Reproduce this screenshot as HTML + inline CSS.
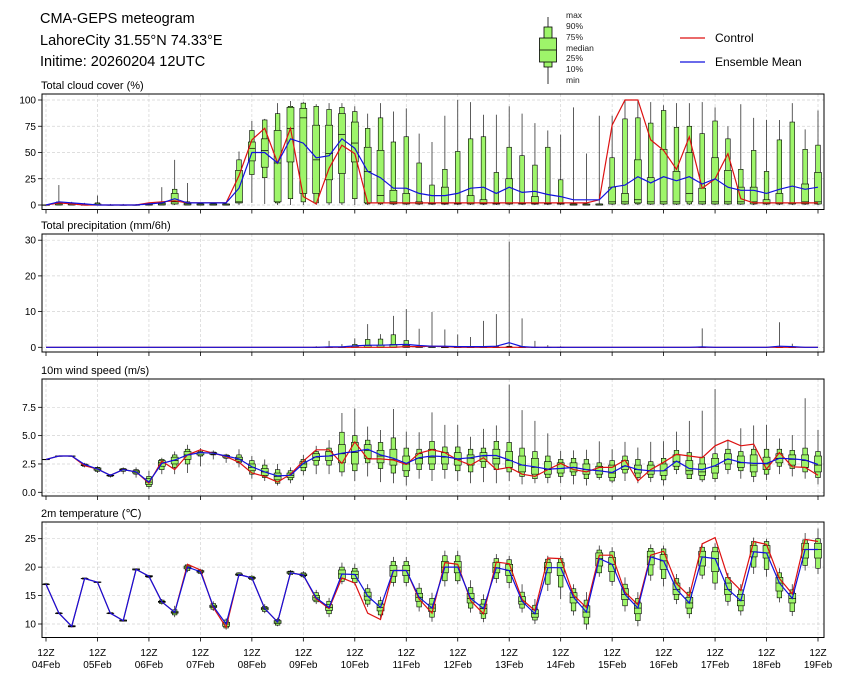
<!DOCTYPE html>
<html><head><meta charset="utf-8"><style>
body{margin:0;background:#fff;}
svg{display:block;font-family:"Liberation Sans","DejaVu Sans",sans-serif;}
</style></head><body>
<svg id="chart" width="845" height="681" viewBox="0 0 845 681" xmlns="http://www.w3.org/2000/svg">
<rect x="0" y="0" width="845" height="681" fill="#fff"/>
<text x="40" y="23" font-size="14.5">CMA-GEPS meteogram</text>
<text x="40" y="45" font-size="14.5">LahoreCity 31.55°N 74.33°E</text>
<text x="40" y="66" font-size="14.5">Initime: 20260204 12UTC</text>
<g>
<line x1="548" y1="17" x2="548" y2="84" stroke="#333" stroke-width="1"/>
<rect x="544" y="27" width="8" height="40" fill="#9ef56a" stroke="#000" stroke-width="0.8"/>
<rect x="539.5" y="38" width="17" height="24" fill="#9ef56a" stroke="#000" stroke-width="0.8"/>
<line x1="539.5" y1="50" x2="556.5" y2="50" stroke="#000" stroke-width="0.8"/>
<g font-size="8.5" fill="#222">
<text x="566" y="18">max</text><text x="566" y="29">90%</text><text x="566" y="40">75%</text><text x="566" y="51">median</text><text x="566" y="61">25%</text><text x="566" y="72">10%</text><text x="566" y="83">min</text>
</g></g>
<g>
<line x1="680" y1="38" x2="705" y2="38" stroke="#dd1111" stroke-width="1.3"/>
<text x="715" y="42" font-size="12">Control</text>
<line x1="680" y1="62" x2="705" y2="62" stroke="#1111dd" stroke-width="1.3"/>
<text x="715" y="66" font-size="12">Ensemble Mean</text>
</g>
</svg>
<script>
const dayLabels = ["04Feb","05Feb","06Feb","07Feb","08Feb","09Feb","10Feb","11Feb","12Feb","13Feb","14Feb","15Feb","16Feb","17Feb","18Feb","19Feb"];
// Total cloud cover (%)
const ccCtrl = [0,2,1,0,0,0,0,0,2,3,4,2,2,2,2,28,62,73,40,73,8,1,35,57,49,2,2,2,2,2,2,2,2,2,2,2,2,2,2,2,2,2,2,5,76,100,100,62,52,34,65,16,25,49,6,2,2,2,2,2,2];
const ccMean = [0,3,2,1,0,0,0,0,1,2,6,2,2,2,2,16,50,50,40,63,59,45,47,63,54,32,26,16,16,11,9,9,11,16,17,11,17,12,13,10,8,5,5,5,17,19,27,21,27,23,27,20,25,17,14,14,11,15,18,15,17];
const ccMax = [0,19,3,2,9,1,1,1,2,17,43,21,1,1,1,51,80,82,97,99,98,96,97,97,94,87,97,89,92,68,60,85,100,98,86,86,94,87,78,71,67,93,49,85,85,100,100,98,95,97,97,98,93,75,96,83,81,81,97,72,90];
const ccP90 = [0,3,2,1,2,0,0,0,1,3,15,3,1,1,1,43,71,81,87,94,97,94,91,93,89,73,83,60,65,40,19,34,51,63,65,31,55,47,38,55,24,1,1,1,45,82,83,78,90,74,75,68,80,63,34,52,32,62,79,53,57];
const ccP75 = [0,2,1,0,1,0,0,0,1,2,11,2,1,1,1,33,60,63,71,93,92,76,76,87,79,55,52,14,11,3,2,17,2,9,5,2,25,2,8,2,2,1,1,1,17,11,43,26,53,32,50,16,45,33,17,17,5,11,2,20,31];
const ccMed = [0,1,1,0,0,0,0,0,0,1,3,1,0,0,0,3,54,52,40,73,83,43,49,67,59,32,9,3,2,2,1,1,1,2,1,1,2,1,1,1,1,0,0,0,3,3,5,3,3,3,11,3,3,3,3,3,2,2,2,3,3];
const ccP25 = [0,0,0,0,0,0,0,0,0,0,1,0,0,0,0,2,42,36,3,41,11,11,24,30,41,2,2,1,1,1,1,1,1,1,1,1,1,1,1,1,1,0,0,0,1,1,2,1,1,1,3,1,1,1,1,1,1,1,1,1,1];
const ccP10 = [0,0,0,0,0,0,0,0,0,0,1,0,0,0,0,2,29,26,2,6,3,2,2,2,6,1,1,1,1,1,1,1,1,1,1,1,1,1,1,1,1,0,0,0,1,1,1,1,1,1,1,1,1,1,1,1,1,1,1,1,1];
const ccMin = [0,0,0,0,0,0,0,0,0,0,0,0,0,0,0,0,2,1,0,0,0,0,0,0,0,0,0,0,0,0,0,0,0,0,0,0,0,0,0,0,0,0,0,0,0,0,0,0,0,0,0,0,0,0,0,0,0,0,0,0,0];
// Total precipitation (mm/6h)
const prCtrl = [0,0,0,0,0,0,0,0,0,0,0,0,0,0,0,0,0,0,0,0,0,0,0,0,0,0,0,0,0.2,0.2,0.3,0.2,0,0,0,0,0,0,0,0,0,0,0,0,0,0,0,0,0,0,0,0,0,0,0,0,0,0,0,0,0];
const prMean = [0,0,0,0,0,0,0,0,0,0,0,0,0,0,0,0,0,0,0,0,0,0,0.1,0.1,0.4,0.6,0.6,0.7,0.8,0.5,0.3,0.3,0.2,0.2,0.2,0.3,1.3,0.2,0,0,0,0,0,0,0,0,0,0,0,0,0,0.1,0,0,0,0,0,0.3,0.2,0,0];
const prMax = [0,0,0,0,0,0,0,0,0,0,0,0,0,0,0,0,0,0,0,0,0,0.3,1.8,0.9,2.5,6.5,3.7,8.8,10.7,5.2,9.9,5.0,3.6,2.9,7.4,9.3,29.6,8.1,1.8,0.6,0.3,0,0,0,0,0,0,0,0,0,0,5.3,0,0,0,0,0,7.0,1.0,0,0];
const prP90 = [0,0,0,0,0,0,0,0,0,0,0,0,0,0,0,0,0,0,0,0,0,0,0.1,0.1,0.8,2.2,2.3,3.5,1.9,0.3,0.2,0.2,0.2,0.1,0.2,0.2,0.3,0.2,0,0,0,0,0,0,0,0,0,0,0,0,0,0,0,0,0,0,0,0,0,0,0];
const prP75 = [0,0,0,0,0,0,0,0,0,0,0,0,0,0,0,0,0,0,0,0,0,0,0,0,0.3,0.5,0.6,0.8,0.5,0.1,0.1,0,0,0,0,0,0.1,0,0,0,0,0,0,0,0,0,0,0,0,0,0,0,0,0,0,0,0,0,0,0,0];
// 10m wind speed (m/s)
const wsCtrl = [2.9,3.2,3.2,2.35,2.05,1.5,2.0,1.8,0.8,2.75,2.0,3.3,3.75,3.45,3.15,2.65,1.7,1.4,0.9,1.6,2.75,3.75,3.75,2.55,4.45,2.95,2.95,2.85,2.45,3.45,3.75,3.5,2.85,2.4,3.05,2.0,2.2,1.6,1.4,2.0,2.55,2.0,1.8,2.2,2.2,2.85,1.0,2.0,2.65,3.35,3.2,3.05,4.1,4.6,4.1,4.25,2.05,3.5,2.25,2.2,1.5];
const wsMean = [2.9,3.2,3.2,2.45,2.05,1.5,2.0,1.8,0.9,2.55,2.85,3.3,3.5,3.45,3.2,2.95,2.25,1.8,1.45,1.5,2.55,3.15,3.2,3.45,3.6,3.8,3.3,3.0,2.55,3.05,3.2,3.15,2.95,3.05,3.25,3.25,2.85,2.4,2.25,2.05,2.1,2.2,2.0,1.9,1.75,2.35,2.0,1.9,1.9,2.75,2.1,2.0,2.35,2.95,2.65,2.55,2.55,3.0,2.95,2.85,2.45];
const wsMax = [2.9,3.2,3.2,2.6,2.3,1.6,2.2,2.2,1.9,3.05,3.6,4.2,3.9,3.7,3.4,3.8,3.2,2.9,2.5,2.2,3.3,4.1,4.6,7.0,7.4,5.8,5.5,7.35,5.35,5.3,7.05,5.95,5.95,4.9,5.6,5.9,9.5,7.25,6.3,5.2,3.65,3.7,3.75,4.5,3.8,4.45,3.95,4.45,4.5,5.35,6.3,7.2,9.1,4.6,5.65,5.9,5.95,4.75,5.05,8.3,5.5];
const wsP90 = [2.9,3.2,3.2,2.5,2.2,1.55,2.1,2.0,1.4,2.9,3.3,3.8,3.6,3.55,3.3,3.3,2.8,2.4,2.0,1.9,2.9,3.6,3.9,5.3,5.0,4.6,4.4,4.8,3.9,3.8,4.5,4.0,4.0,3.8,3.9,4.5,4.4,3.9,3.6,3.2,2.9,3.0,2.9,2.6,2.8,3.2,2.9,2.7,3.0,3.7,3.5,3.1,3.4,3.8,3.6,3.8,3.8,3.8,3.7,3.9,3.6];
const wsP75 = [2.9,3.2,3.2,2.45,2.15,1.5,2.05,1.9,1.2,2.8,3.1,3.6,3.5,3.5,3.25,3.1,2.5,2.1,1.7,1.7,2.7,3.4,3.6,4.2,4.4,4.2,3.7,3.8,3.2,3.4,3.8,3.5,3.5,3.3,3.5,3.8,3.6,3.2,3.0,2.7,2.6,2.6,2.5,2.3,2.4,2.8,2.4,2.4,2.5,3.3,2.8,2.5,3.0,3.4,3.2,3.3,3.1,3.4,3.3,3.3,3.2];
const wsMed = [2.9,3.2,3.2,2.4,2.05,1.5,2.0,1.8,0.9,2.6,2.8,3.3,3.5,3.45,3.2,2.9,2.2,1.8,1.4,1.5,2.5,3.1,3.2,3.4,3.5,3.7,3.2,2.9,2.5,3.0,3.1,3.1,2.9,3.0,3.2,3.0,2.8,2.4,2.2,2.0,2.1,2.2,2.0,1.9,1.7,2.3,2.0,1.9,1.9,2.7,1.9,1.8,2.3,2.9,2.6,2.4,2.5,3.0,2.9,2.8,2.4];
const wsP25 = [2.9,3.2,3.2,2.35,1.95,1.45,1.95,1.7,0.7,2.3,2.5,2.9,3.3,3.35,3.1,2.75,1.9,1.5,1.1,1.3,2.2,2.8,2.8,2.6,2.5,3.0,2.6,2.4,1.9,2.5,2.5,2.5,2.4,2.4,2.7,2.5,2.2,1.8,1.6,1.6,1.7,1.8,1.6,1.6,1.3,2.0,1.7,1.6,1.5,2.3,1.6,1.5,1.7,2.5,2.2,1.8,2.0,2.6,2.4,2.2,1.8];
const wsP10 = [2.9,3.2,3.2,2.3,1.85,1.4,1.85,1.6,0.5,2.0,2.2,2.5,3.2,3.3,3.0,2.6,1.6,1.3,0.8,1.1,1.9,2.4,2.4,1.8,1.9,2.6,2.1,1.7,1.4,2.0,2.0,2.0,1.9,1.8,2.2,2.0,1.8,1.4,1.2,1.3,1.4,1.5,1.2,1.3,1.0,1.7,1.3,1.3,1.1,2.0,1.2,1.1,1.2,2.0,1.9,1.4,1.6,2.3,2.1,1.8,1.3];
const wsMin = [2.9,3.2,3.2,2.2,1.7,1.3,1.6,1.3,0.3,1.6,1.6,1.7,2.3,2.9,2.6,2.2,1.2,1.0,0.6,0.8,1.5,1.6,1.6,1.4,1.0,1.4,0.9,0.8,0.6,1.2,1.0,1.2,1.0,0.8,0.9,0.8,1.0,0.7,0.8,0.8,0.8,0.7,0.6,1.1,0.8,1.0,0.8,0.9,0.6,1.6,1.2,0.9,0.9,1.6,1.2,0.9,1.1,1.6,1.4,1.2,0.7];
// 2m temperature (°C)
const tCtrl = [17.0,11.9,9.6,18.0,17.35,11.9,10.6,19.6,18.4,13.9,12.05,20.5,19.5,12.9,9.4,18.7,18.1,12.7,10.35,19.0,18.6,14.4,12.7,18.1,17.2,11.9,10.8,19.4,19.4,14.4,11.9,20.8,20.5,14.1,11.8,20.9,20.6,14.3,12.35,21.6,21.5,15.1,12.9,22.1,22.1,15.6,13.4,22.1,22.8,17.1,14.9,24.1,25.2,18.2,15.9,24.5,24.0,18.0,15.3,24.9,24.5];
const tMean = [17.0,11.9,9.6,18.0,17.35,11.9,10.6,19.6,18.4,13.9,12.05,20.0,19.2,13.1,10.0,18.7,18.1,12.7,10.35,19.0,18.6,14.6,12.9,18.8,18.7,14.9,12.9,19.4,19.4,14.7,12.8,20.0,20.0,14.5,12.7,19.9,19.4,14.0,11.8,19.9,19.9,14.7,12.1,21.5,20.5,15.2,12.8,21.8,21.1,16.1,13.7,21.8,21.5,16.1,14.1,22.7,22.5,17.2,14.5,23.1,23.1];
// rows: [min, p10, p25, median, p75, p90, max]
const tStats = [
[16.9,16.9,17.0,17.0,17.0,17.1,17.1],[11.8,11.8,11.9,11.9,11.9,12.0,12.0],[9.4,9.5,9.5,9.6,9.7,9.7,9.8],[17.9,17.9,18.0,18.0,18.0,18.1,18.1],
[17.2,17.3,17.3,17.35,17.4,17.4,17.5],[11.8,11.8,11.9,11.9,11.9,12.0,12.0],[10.4,10.5,10.5,10.6,10.7,10.7,10.8],[19.4,19.5,19.5,19.6,19.7,19.7,19.8],
[18.1,18.2,18.3,18.4,18.5,18.5,18.6],[13.4,13.6,13.8,13.9,14.0,14.2,14.4],[11.2,11.6,11.9,12.05,12.2,12.5,13.2],[19.1,19.4,19.7,20.0,20.2,20.4,20.6],
[18.8,18.9,19.1,19.2,19.4,19.5,19.7],[12.3,12.6,12.9,13.1,13.3,13.6,14.0],[9.0,9.3,9.6,10.0,10.3,10.7,11.0],[18.4,18.5,18.6,18.7,18.8,19.0,19.1],
[17.6,17.8,18.0,18.1,18.2,18.4,18.6],[11.9,12.2,12.5,12.7,12.9,13.1,13.5],[9.6,9.8,10.1,10.35,10.6,10.8,11.1],[18.6,18.7,18.9,19.0,19.2,19.3,19.5],
[18.1,18.3,18.5,18.6,18.8,19.0,19.3],[13.5,13.9,14.2,14.6,15.0,15.5,16.0],[11.2,11.8,12.4,12.9,13.4,14.0,14.6],[17.0,17.5,18.0,18.8,19.5,20.0,20.8],
[16.8,17.3,18.0,18.7,19.3,19.8,20.6],[13.0,13.5,14.2,14.9,15.6,16.2,17.0],[11.0,11.6,12.3,12.9,13.5,14.1,14.8],[16.6,17.3,18.4,19.4,20.3,21.0,21.8],
[16.6,17.3,18.5,19.4,20.3,21.0,21.8],[12.2,13.0,14.0,14.7,15.4,16.3,17.2],[10.4,11.2,12.2,12.8,13.5,14.5,15.5],[16.6,17.6,19.0,20.0,21.0,22.0,22.9],
[17.0,17.6,19.0,20.0,21.0,22.0,22.9],[12.0,12.8,13.7,14.5,15.4,16.4,17.7],[10.3,11.0,11.8,12.7,13.5,14.3,15.2],[17.2,18.0,19.0,19.9,20.8,21.5,22.3],
[16.3,17.3,18.5,19.4,20.5,21.3,22.0],[12.0,12.8,13.5,14.0,14.8,15.6,17.0],[10.0,10.7,11.2,11.8,12.5,13.3,14.4],[15.8,17.0,19.0,19.9,20.8,21.4,22.0],
[14.4,16.5,18.5,19.9,20.8,21.5,22.0],[11.5,12.3,13.7,14.7,15.5,16.2,17.0],[9.0,10.0,11.2,12.1,13.2,14.2,15.6],[18.3,19.0,20.2,21.5,22.5,23.0,23.8],
[16.7,17.5,19.2,20.5,21.7,22.7,23.5],[12.2,13.2,14.3,15.2,16.2,17.0,18.2],[9.6,10.6,11.8,12.8,13.7,14.5,15.6],[17.6,18.6,20.4,21.8,22.8,23.3,24.0],
[16.6,18.0,19.6,21.1,22.2,23.2,23.8],[13.5,14.3,15.2,16.1,17.2,18.0,18.8],[11.0,11.8,12.8,13.7,14.7,15.6,16.5],[17.9,18.6,20.2,21.8,22.8,23.5,24.2],
[16.0,17.2,19.2,21.5,22.7,23.5,24.2],[13.2,14.0,15.2,16.1,17.2,18.2,19.0],[11.5,12.3,13.2,14.1,15.2,16.0,17.0],[18.8,20.0,21.8,22.7,23.8,24.5,25.2],
[18.3,19.6,21.6,22.5,23.8,24.5,25.0],[13.8,14.6,15.8,17.2,18.2,19.0,19.8],[11.4,12.2,13.7,14.5,15.4,16.0,17.0],[19.4,20.3,21.6,23.1,24.2,24.8,26.0],
[18.8,19.8,21.6,23.1,24.2,25.0,26.8]];
const ccTicks = [0,25,50,75,100];
const prTicks = [0,10,20,30];
const wsTicks = [0.0,2.5,5.0,7.5];
const tTicks = [10,15,20,25];

const NS = "http://www.w3.org/2000/svg";
const svg = document.getElementById("chart");
function mk(tag, attrs, parent){ const e=document.createElementNS(NS,tag); for(const k in attrs) e.setAttribute(k,attrs[k]); (parent||svg).appendChild(e); return e; }
const X0=46, X1=818, FL=42, FR=824;
const nSteps = ccCtrl.length-1;
function xOf(i){ return X0 + i*(X1-X0)/nSteps; }
function xDay(d){ return X0 + d*(X1-X0)/(dayLabels.length-1); }
function scale(v0,y0,v1,y1){ return v=> y0 + (v-v0)*(y1-y0)/(v1-v0); }

function panel(name, title, top, bot, ys, ticks, fmt, stats, ctrl, mean){
  const g = mk("g",{});
  
  
  const t = mk("text",{x:41,y:top-5,"font-size":11},g); t.textContent=title;
  
  
  for(let d=0; d<dayLabels.length; d++){
    const gl = mk("line",{x1:xDay(d),x2:xDay(d),y1:top,y2:bot,stroke:"#d3d3d3","stroke-width":0.7,"stroke-dasharray":"3,2"},g);
    
    
    mk("line",{x1:xDay(d),x2:xDay(d),y1:bot,y2:bot+4,stroke:"#000","stroke-width":0.8},g);
  }
  ticks.forEach(v=>{
    const y=ys(v);
    const gl = mk("line",{x1:FL,x2:FR,y1:y,y2:y,stroke:"#d3d3d3","stroke-width":0.7,"stroke-dasharray":"3,2"},g);
    
    
    mk("line",{x1:FL-4,x2:FL,y1:y,y2:y,stroke:"#000","stroke-width":0.8},g);
    const lb = mk("text",{x:FL-6,y:y+3.5,"font-size":10,"text-anchor":"end"},g); lb.textContent=fmt(v);
    
    
  });
  for(let i=0;i<=nSteps;i++){
    const s = stats(i); if(!s) continue;
    const x=xOf(i);
    const bg = mk("g",{},g);
    
    
    mk("line",{x1:x,x2:x,y1:ys(s[0]),y2:ys(s[6]),stroke:"#333","stroke-width":0.8},bg);
    mk("rect",{x:x-2.3,y:ys(s[5]),width:4.6,height:Math.max(0.3,ys(s[1])-ys(s[5])),fill:"#9ef56a",stroke:"#000","stroke-width":0.6},bg);
    mk("rect",{x:x-3.5,y:ys(s[4]),width:7,height:Math.max(0.3,ys(s[2])-ys(s[4])),fill:"#9ef56a",stroke:"#000","stroke-width":0.6},bg);
    mk("line",{x1:x-3.5,x2:x+3.5,y1:ys(s[3]),y2:ys(s[3]),stroke:"#000","stroke-width":0.7},bg);
  }
  const pts = a=>a.map((v,i)=>xOf(i).toFixed(1)+","+ys(v).toFixed(1)).join(" ");
  const cl = mk("polyline",{points:pts(ctrl),fill:"none",stroke:"#dd1111","stroke-width":1.2},g);
  
  
  const ml = mk("polyline",{points:pts(mean),fill:"none",stroke:"#1111dd","stroke-width":1.2},g);
  
  
  const fr = mk("rect",{x:FL,y:top,width:FR-FL,height:bot-top,fill:"none",stroke:"#000","stroke-width":1},g);
  
  
}
panel("cloud-cover","Total cloud cover (%)",94,209.5,scale(0,205,100,100),ccTicks,v=>String(v),
  i=>[ccMin[i],ccP10[i],ccP25[i],ccMed[i],ccP75[i],ccP90[i],ccMax[i]],ccCtrl,ccMean);
panel("precipitation","Total precipitation (mm/6h)",234,352,scale(0,347.3,30,240.2),prTicks,v=>String(v),
  i=> prMax[i]>0 ? [0,0,0,0,prP75[i],prP90[i],prMax[i]] : null, prCtrl, prMean);
panel("wind-speed","10m wind speed (m/s)",379,496,scale(0,492.3,7.5,407.3),wsTicks,v=>v.toFixed(1),
  i=>[wsMin[i],wsP10[i],wsP25[i],wsMed[i],wsP75[i],wsP90[i],wsMax[i]],wsCtrl,wsMean);
panel("temperature","2m temperature (℃)",522,637.5,scale(10,624,25,538.7),tTicks,v=>String(v),
  i=>tStats[i],tCtrl,tMean);
dayLabels.forEach((d,k)=>{
  const t1 = mk("text",{x:xDay(k),y:656,"font-size":10,"text-anchor":"middle"}); t1.textContent="12Z";
  
  
  const t2 = mk("text",{x:xDay(k),y:668,"font-size":10,"text-anchor":"middle"}); t2.textContent=d;
  
  
});
</script>
</body></html>
